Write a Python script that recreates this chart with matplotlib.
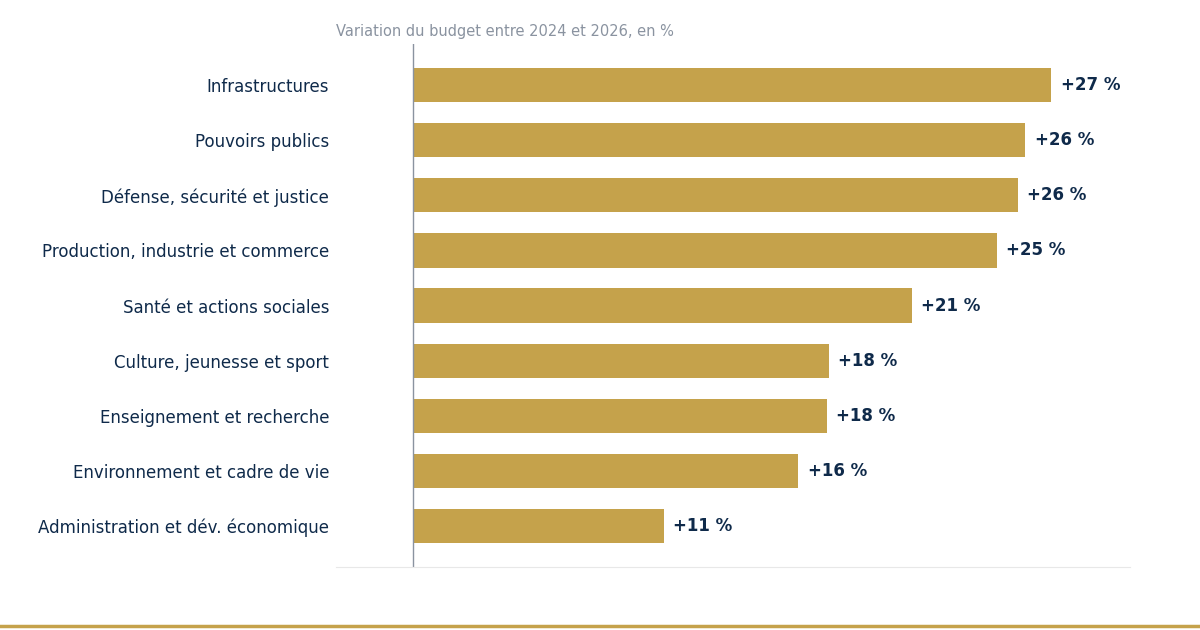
import matplotlib.pyplot as plt

categories = ["Infrastructures", "Pouvoirs publics", "Défense, sécurité et justice",
              "Production, industrie et commerce", "Santé et actions sociales",
              "Culture, jeunesse et sport", "Enseignement et recherche",
              "Environnement et cadre de vie", "Administration et dév. économique"]
values = [27.0, 25.9, 25.6, 24.7, 21.1, 17.6, 17.5, 16.3, 10.6]
labels = ["+27 %", "+26 %", "+26 %", "+25 %", "+21 %", "+18 %", "+18 %", "+16 %", "+11 %"]

navy = "#0f2a4a"
gold = "#c5a24b"

fig = plt.figure(figsize=(12, 6.3), dpi=100)
ax = fig.add_axes([0.28, 0.1, 0.6617, 0.83])
pos = list(range(len(categories)))
ax.barh(pos, values, height=0.62, color=gold)
for p, v, lab in zip(pos, values, labels):
    ax.text(v + 0.4, p, lab, va="center", ha="left", fontsize=12, fontweight="bold", color=navy)
ax.set_xlim(-3.26, 30.34)
ax.set_ylim(8.744, -0.744)
ax.set_yticks(pos)
ax.set_yticklabels(categories, fontsize=12, color=navy)
ax.tick_params(axis="y", length=0, pad=5)
ax.set_xticks([])
for s in ["top", "right", "left"]:
    ax.spines[s].set_visible(False)
ax.spines["bottom"].set_color("#e8e8e8")
ax.axvline(0, color="#8a93a0", lw=1)
fig.text(0.28, 0.95, "Variation du budget entre 2024 et 2026, en %", fontsize=10.5,
         color="#8a93a0", ha="left", va="center")
fig.add_artist(plt.Line2D([0, 1], [0.006, 0.006], color=gold, lw=2.5, transform=fig.transFigure))
fig.savefig("out.png", dpi=100)
